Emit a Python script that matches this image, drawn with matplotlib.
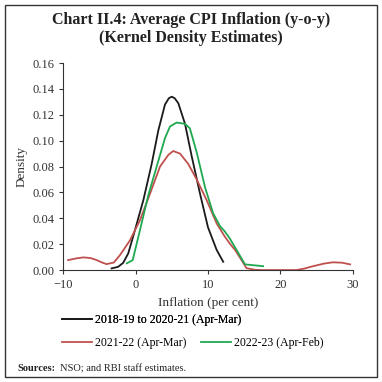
import matplotlib

matplotlib.use("Agg")
import matplotlib.pyplot as plt
from matplotlib.lines import Line2D

# values
black_x = [-3.3, -2.4, -1.7, -1.0, -0.07, 1.08, 2.23, 3.15, 4.07, 4.6, 5.0, 5.4, 5.9, 6.83, 7.75, 8.9, 10.0, 11.2, 12.1]
black_y = [0.0013, 0.0025, 0.0056, 0.0129, 0.031, 0.054, 0.082, 0.108, 0.128, 0.1328, 0.134, 0.1328, 0.129, 0.113, 0.088, 0.059, 0.033, 0.0155, 0.0064]

red_x = [-9.3, -8.2, -7.2, -6.2, -5.35, -4.6, -4.0, -3.0, -2.14, -0.76, 0.62, 2.0, 3.38, 4.53, 5.2, 6.14, 7.28, 8.44, 9.82, 11.2, 12.3, 13.0, 13.8, 14.6, 15.3, 16.5, 17.6, 20.0, 22.2, 23.3, 24.5, 26.0, 27.2, 28.5, 29.6]
red_y = [0.0077, 0.009, 0.0098, 0.0093, 0.0077, 0.0058, 0.0046, 0.0058, 0.0116, 0.023, 0.0386, 0.059, 0.080, 0.089, 0.092, 0.090, 0.082, 0.070, 0.054, 0.036, 0.026, 0.0206, 0.015, 0.008, 0.0015, 0.0002, 0.0, 0.0, 0.0, 0.0012, 0.003, 0.005, 0.006, 0.0057, 0.0044]

green_x = [-1.2, -0.39, 0.62, 1.77, 2.92, 4.07, 4.76, 5.68, 6.83, 7.5, 8.44, 9.59, 10.7, 11.65, 12.3, 13.0, 14.0, 15.1, 17.6]
green_y = [0.0052, 0.0077, 0.031, 0.058, 0.080, 0.102, 0.111, 0.114, 0.113, 0.1095, 0.091, 0.064, 0.044, 0.034, 0.030, 0.0245, 0.015, 0.0044, 0.003]

labels = ["2018-19 to 2020-21 (Apr-Mar)", "2021-22 (Apr-Mar)", "2022-23 (Apr-Feb)"]
colors = ["#1a1a1a", "#c0504d", "#1fa84f"]

x_ticks = [-10, 0, 10, 20, 30]
y_ticks = [0.00, 0.02, 0.04, 0.06, 0.08, 0.10, 0.12, 0.14, 0.16]

plt.rcParams["font.family"] = ["Liberation Serif", "DejaVu Serif"]

fig = plt.figure(figsize=(3.82, 3.82), dpi=100)
ax = fig.add_axes([0.165, 0.293, 0.759, 0.542])

ax.plot(black_x, black_y, color=colors[0], lw=1.3)
ax.plot(red_x, red_y, color=colors[1], lw=1.3)
ax.plot(green_x, green_y, color=colors[2], lw=1.3)

ax.set_xlim(-10, 30)
ax.set_ylim(0, 0.16)
ax.set_xticks(x_ticks)
ax.set_yticks(y_ticks, [f"{v:.2f}" for v in y_ticks])
ax.tick_params(labelsize=9, direction="out", length=3, color="#333333", labelcolor="#333333")
for side in ("top", "right"):
    ax.spines[side].set_visible(False)
for side in ("left", "bottom"):
    ax.spines[side].set_color("#333333")
ax.set_xlabel("Inflation (per cent)", fontsize=9.5, color="#333333", labelpad=4)
ax.set_ylabel("Density", fontsize=9.5, color="#333333", labelpad=3)

fig.text(0.5, 0.948, "Chart II.4: Average CPI Inflation (y-o-y)", ha="center", va="center",
         fontsize=11.5, fontweight="bold", color="#222222")
fig.text(0.5, 0.900, "(Kernel Density Estimates)", ha="center", va="center",
         fontsize=11.5, fontweight="bold", color="#222222")

# legend: two rows under the axis
handles = [Line2D([], [], color=c, lw=1.3) for c in colors]
leg1 = fig.legend([handles[0]], [labels[0]], loc="center left", bbox_to_anchor=(0.135, 0.163),
                  frameon=False, fontsize=8.5, handlelength=2.55, handletextpad=0.2)
fig.legend(handles[1:], labels[1:], loc="center left", bbox_to_anchor=(0.135, 0.103),
           frameon=False, fontsize=8.5, handlelength=2.55, handletextpad=0.2, ncol=2, columnspacing=1.3)
fig.add_artist(leg1)

fig.text(0.045, 0.035, "Sources:", fontsize=7.5, fontweight="bold", va="center", color="#222222")
fig.text(0.157, 0.035, "NSO; and RBI staff estimates.", fontsize=7.5, va="center", color="#222222")

# outer frame
fig.patches.append(plt.Rectangle((0.012, 0.012), 0.976, 0.976, transform=fig.transFigure,
                                 fill=False, edgecolor="#333333", lw=1.0))

fig.savefig("out.png", dpi=100)
